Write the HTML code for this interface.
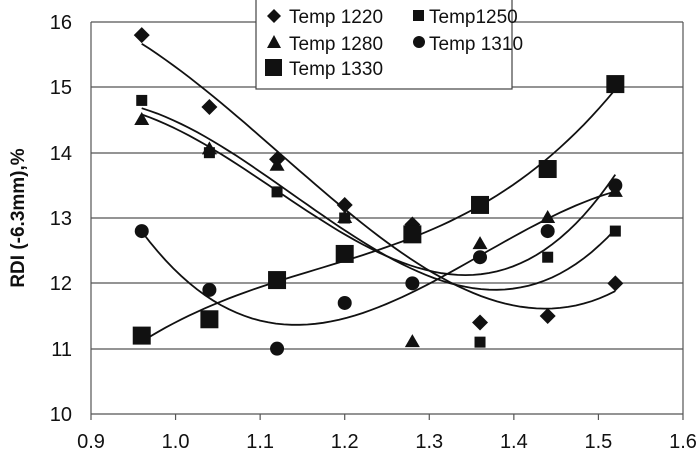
<!DOCTYPE html>
<html><head><meta charset="utf-8"><style>
html,body{margin:0;padding:0;background:#fff;}
svg{display:block;font-family:"Liberation Sans",Arial,sans-serif;}
</style></head><body>
<svg id="s" width="700" height="460" xmlns="http://www.w3.org/2000/svg">
<g stroke="#555" stroke-width="1.2">
<line x1="91" y1="22" x2="683" y2="22"/>
<line x1="91" y1="87" x2="683" y2="87"/>
<line x1="91" y1="153" x2="683" y2="153"/>
<line x1="91" y1="218" x2="683" y2="218"/>
<line x1="91" y1="283" x2="683" y2="283"/>
<line x1="91" y1="349" x2="683" y2="349"/>
<line x1="91" y1="414" x2="683" y2="414"/>
<line x1="91" y1="22" x2="91" y2="414"/>
<line x1="683" y1="22" x2="683" y2="414"/>
</g>
<g stroke="#555" stroke-width="1.2" id="ticks"></g>
<g font-size="20" fill="#111" text-anchor="end">
<text x="72" y="29">16</text><text x="72" y="94">15</text><text x="72" y="160">14</text>
<text x="72" y="225">13</text><text x="72" y="290">12</text><text x="72" y="356">11</text><text x="72" y="421">10</text>
</g>
<g font-size="20" fill="#111" text-anchor="middle" id="xl"></g>
<text transform="translate(24,218) rotate(-90)" font-size="19" font-weight="bold" text-anchor="middle" fill="#111">RDI (-6.3mm),%</text>
<g id="plot"></g>
<rect x="256" y="-1" width="256" height="90" fill="#fff" stroke="#444" stroke-width="1.2"/>
<g font-size="19" fill="#111">
<path d="M274,9 l7,7 -7,7 -7,-7z" fill="#111"/><text x="289" y="23">Temp 1220</text>
<rect x="413" y="10" width="11" height="11" fill="#111"/><text x="429" y="23">Temp1250</text>
<path d="M274,35 l7,13 h-14z" fill="#111"/><text x="289" y="50">Temp 1280</text>
<circle cx="419" cy="42" r="6" fill="#111"/><text x="429" y="50">Temp 1310</text>
<rect x="265" y="59" width="17" height="17" fill="#111"/><text x="289" y="75">Temp 1330</text>
</g>
</svg>
<script>
var ns="http://www.w3.org/2000/svg";
function X(v){return 91+(v-0.9)/0.1*84.57;}
function Y(v){return 414-(v-10)*65.33;}
function el(t,a,p){var e=document.createElementNS(ns,t);for(var k in a)e.setAttribute(k,a[k]);p.appendChild(e);return e;}
var tk=document.getElementById('ticks'),xl=document.getElementById('xl'),pl=document.getElementById('plot');
for(var i=0;i<=7;i++){var x=X(0.9+i*0.1);el('line',{x1:x,y1:414,x2:x,y2:420},tk);var t=el('text',{x:x,y:448},xl);t.textContent=(0.9+i*0.1).toFixed(1);}
var xs=[0.96,1.04,1.12,1.2,1.28,1.36,1.44,1.52];
var S=[
{m:'d',v:[15.8,14.7,13.9,13.2,12.9,11.4,11.5,12.0]},
{m:'s',v:[14.8,14.0,13.4,13.0,12.75,11.1,12.4,12.8]},
{m:'t',v:[14.5,14.05,13.8,13.0,11.1,12.6,13.0,13.4]},
{m:'c',v:[12.8,11.9,11.0,11.7,12.0,12.4,12.8,13.5]},
{m:'S',v:[11.2,11.45,12.05,12.45,12.75,13.2,13.75,15.05]}];
function fit(x,y,d){var n=d+1,A=[],b=[];for(var i=0;i<n;i++){A.push([]);b.push(0);for(var j=0;j<n;j++){var s=0;for(var k=0;k<x.length;k++)s+=Math.pow(x[k]-1.24,i+j);A[i].push(s);}for(var k=0;k<x.length;k++)b[i]+=y[k]*Math.pow(x[k]-1.24,i);}
for(var i=0;i<n;i++){var p=i;for(var r=i+1;r<n;r++)if(Math.abs(A[r][i])>Math.abs(A[p][i]))p=r;var t=A[i];A[i]=A[p];A[p]=t;t=b[i];b[i]=b[p];b[p]=t;for(var r=i+1;r<n;r++){var f=A[r][i]/A[i][i];for(var c=i;c<n;c++)A[r][c]-=f*A[i][c];b[r]-=f*b[i];}}
var c=new Array(n);for(var i=n-1;i>=0;i--){var s=b[i];for(var j=i+1;j<n;j++)s-=A[i][j]*c[j];c[i]=s/A[i][i];}return c;}
S.forEach(function(s){var c=fit(xs,s.v,3),d='';for(var k=0;k<=60;k++){var x=0.96+k*(0.56/60),y=0;for(var i=0;i<c.length;i++)y+=c[i]*Math.pow(x-1.24,i);d+=(k?'L':'M')+X(x).toFixed(1)+','+Y(y).toFixed(1);}
el('path',{d:d,fill:'none',stroke:'#111','stroke-width':1.8},pl);});
S.forEach(function(s){s.v.forEach(function(v,i){var x=X(xs[i]),y=Y(v);
if(s.m=='d')el('path',{d:'M'+x+','+(y-8)+'l8,8 -8,8 -8,-8z',fill:'#111'},pl);
else if(s.m=='s')el('rect',{x:x-5.5,y:y-5.5,width:11,height:11,fill:'#111'},pl);
else if(s.m=='t')el('path',{d:'M'+x+','+(y-8)+'l7.5,13 h-15z',fill:'#111'},pl);
else if(s.m=='c')el('circle',{cx:x,cy:y,r:7,fill:'#111'},pl);
else el('rect',{x:x-9,y:y-9,width:18,height:18,fill:'#111'},pl);});});
</script>
</body></html>
